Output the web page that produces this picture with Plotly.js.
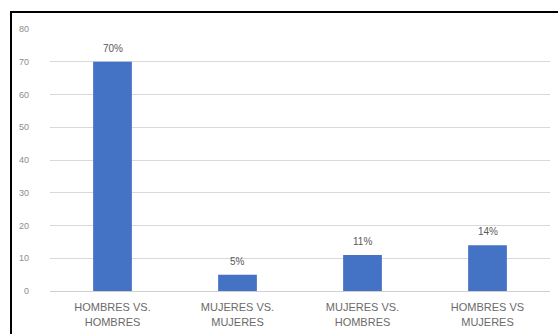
<!DOCTYPE html>
<html>
<head>
<meta charset="utf-8">
<script src="https://cdn.plot.ly/plotly-3.0.1.min.js"></script>
<style>
html,body{margin:0;padding:0;background:#fff;}
#wrap{position:relative;width:558px;height:334px;overflow:hidden;}
#chart{position:absolute;left:0;top:0;width:558px;height:334px;}
#frame{position:absolute;left:10px;top:11px;width:560px;height:340px;border-left:2px solid #000;border-top:2px solid #000;pointer-events:none;}
</style>
</head>
<body>
<div id="wrap"><div id="chart"></div><div id="frame"></div></div>
<script>
const categories = ["HOMBRES VS.<br>HOMBRES", "MUJERES VS.<br>MUJERES", "MUJERES VS.<br>HOMBRES", "HOMBRES VS<br>MUJERES"];
const values = [70, 5, 11, 14];
const valueLabels = ["70%", "5%", "11%", "14%"];
const yTicks = [0, 10, 20, 30, 40, 50, 60, 70, 80];

const trace = {
  type: 'bar',
  x: categories,
  y: values,
  marker: {color: '#4472C4'},
  width: 0.31,
  hoverinfo: 'none'
};

const annotations = categories.map((c, i) => ({
  x: c, y: values[i], xref: 'x', yref: 'y',
  text: valueLabels[i], showarrow: false,
  yanchor: 'bottom', yshift: 6,
  font: {family: 'Liberation Sans, Arial, sans-serif', size: 10, color: '#595959'}
}));

const layout = {
  width: 558, height: 334,
  margin: {l: 50, r: 8, t: 29, b: 43},
  paper_bgcolor: '#fff', plot_bgcolor: '#fff',
  showlegend: false,
  font: {family: 'Liberation Sans, Arial, sans-serif', size: 10, color: '#595959'},
  annotations: annotations,
  xaxis: {
    type: 'category',
    showgrid: false,
    showline: true, linecolor: '#d0d0d0', linewidth: 1,
    ticks: '', ticklabelstandoff: 6,
    tickfont: {size: 11, color: '#6a6a6a'},
    automargin: false
  },
  yaxis: {
    range: [0, 80],
    tickvals: yTicks,
    showgrid: true, gridcolor: '#d9d9d9', gridwidth: 1,
    zeroline: false, showline: false,
    ticks: '', ticklabelstandoff: 20,
    tickfont: {size: 9, color: '#8c8c8c'},
    automargin: false
  }
};

Plotly.newPlot('chart', [trace], layout, {staticPlot: true, displayModeBar: false});
</script>
</body>
</html>
